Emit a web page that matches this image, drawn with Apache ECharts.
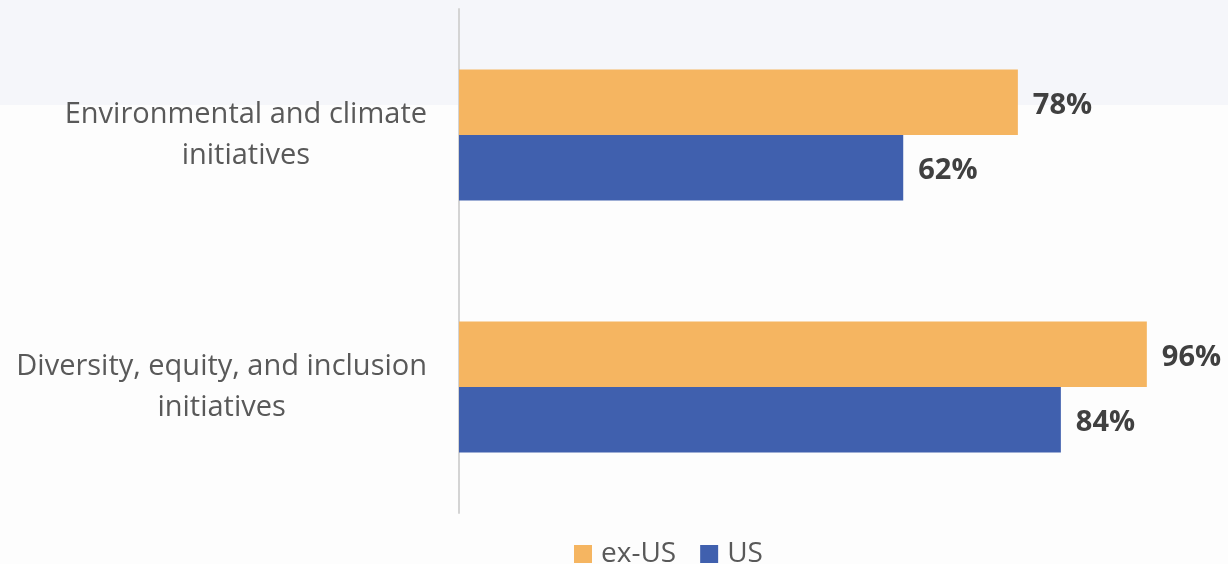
<!DOCTYPE html>
<html>
<head>
<meta charset="utf-8">
<script src="https://cdn.jsdelivr.net/npm/echarts@6/dist/echarts.min.js"></script>
<style>
  html, body { margin: 0; padding: 0; background: #fdfdfd; }
  #chart { width: 1228px; height: 564px; }
</style>
</head>
<body>
<div id="chart"></div>
<script>
const categories = [
  'Environmental and climate\ninitiatives',
  'Diversity, equity, and inclusion\ninitiatives'
];
const seriesNames = ['ex-US', 'US'];
const exUS = [78, 96];
const US = [62, 84];

const chart = echarts.init(document.getElementById('chart'));
const FONT = '"Open Sans", "Noto Sans", sans-serif';

function valueLabel() {
  return {
    show: true,
    position: 'right',
    distance: 15,
    offset: [0, 3],
    formatter: '{c}%',
    fontFamily: FONT,
    fontWeight: 'bold',
    fontSize: 29,
    color: '#404040'
  };
}

chart.setOption({
  backgroundColor: '#fdfdfd',
  animation: false,
  graphic: [{
    type: 'rect',
    silent: true,
    z: -10,
    shape: { x: 0, y: 0, width: 1228, height: 105 },
    style: { fill: '#f5f6fa' }
  }],
  legend: {
    data: seriesNames,
    left: 574,
    top: 540,
    padding: 0,
    icon: 'rect',
    itemWidth: 18,
    itemHeight: 18,
    itemGap: 24,
    textStyle: { fontFamily: FONT, fontSize: 28, color: '#595959', padding: [0, 0, 0, 4] }
  },
  grid: { left: 459, top: 9, width: 716.5, height: 504, containLabel: false },
  xAxis: {
    type: 'value',
    min: 0,
    max: 100,
    show: false
  },
  yAxis: {
    type: 'category',
    inverse: true,
    data: categories,
    axisLine: { show: true, lineStyle: { color: '#d4d4d4', width: 2 } },
    axisTick: { show: false },
    axisLabel: {
      margin: 32,
      align: 'right',
      fontFamily: FONT,
      fontSize: 29,
      color: '#595959',
      lineHeight: 41,
      formatter: function (v) {
        return v.split('\n').map(function (s) { return '{c|' + s + '}'; }).join('\n');
      },
      rich: {
        c: { align: 'center', fontFamily: FONT, fontSize: 29, color: '#595959', lineHeight: 41 }
      }
    }
  },
  series: [
    {
      name: seriesNames[0],
      type: 'bar',
      data: exUS,
      barGap: '0%',
      barCategoryGap: '48%',
      itemStyle: { color: '#f5b561' },
      label: valueLabel()
    },
    {
      name: seriesNames[1],
      type: 'bar',
      data: US,
      barGap: '0%',
      barCategoryGap: '48%',
      itemStyle: { color: '#4060ae' },
      label: valueLabel()
    }
  ]
});
</script>
</body>
</html>
